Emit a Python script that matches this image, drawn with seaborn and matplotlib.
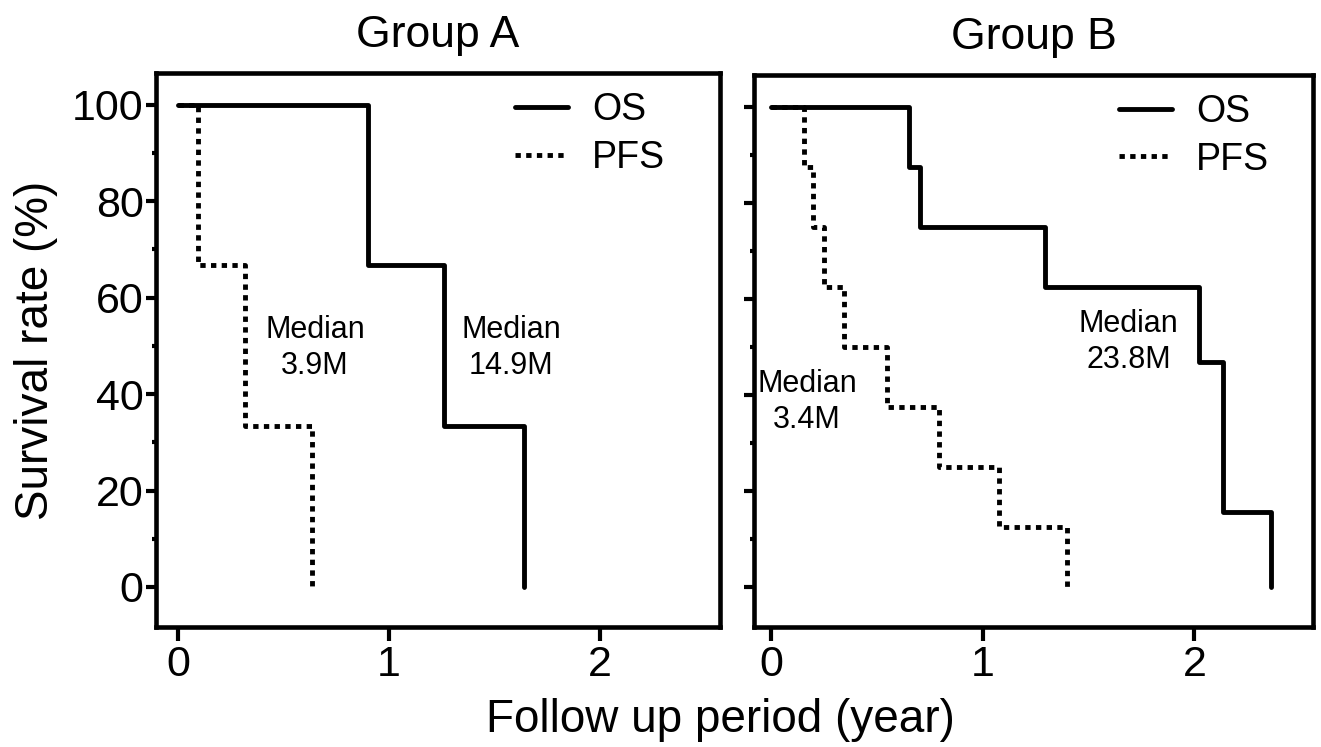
import numpy as np
import pandas as pd
import matplotlib
matplotlib.use("Agg")
import matplotlib.pyplot as plt
import seaborn as sns
from matplotlib.lines import Line2D
from matplotlib.ticker import MultipleLocator

# ---- data ----
groups = ["Group A", "Group B"]
endpoints = ["OS", "PFS"]

a_os_time = [0, 0.90, 1.26, 1.64]
a_os_surv = [100, 66.7, 33.3, 0]
a_pfs_time = [0, 0.095, 0.316, 0.637]
a_pfs_surv = [100, 66.7, 33.3, 0]

b_os_time = [0, 0.65, 0.705, 1.295, 2.02, 2.135, 2.363]
b_os_surv = [100, 87.5, 75, 62.5, 46.9, 15.6, 0]
b_pfs_time = [0, 0.155, 0.197, 0.25, 0.345, 0.549, 0.793, 1.075, 1.396]
b_pfs_surv = [100, 87.5, 75, 62.5, 50, 37.5, 25, 12.5, 0]

medians_a = ["Median\n3.9M", "Median\n14.9M"]
medians_b = ["Median\n3.4M", "Median\n23.8M"]

x_ticks = [0, 1, 2]
y_ticks = [0, 20, 40, 60, 80, 100]

rows = []
for g, ep, t, s in [
    ("Group A", "OS", a_os_time, a_os_surv),
    ("Group A", "PFS", a_pfs_time, a_pfs_surv),
    ("Group B", "OS", b_os_time, b_os_surv),
    ("Group B", "PFS", b_pfs_time, b_pfs_surv),
]:
    for ti, si in zip(t, s):
        rows.append({"group": g, "endpoint": ep, "time": ti, "surv": si})
df = pd.DataFrame(rows)

# ---- style ----
sns.set_theme(style="ticks")
plt.rcParams["font.family"] = ["Liberation Sans", "DejaVu Sans"]
plt.rcParams["text.color"] = "black"
plt.rcParams["axes.labelcolor"] = "black"
plt.rcParams["xtick.color"] = "black"
plt.rcParams["ytick.color"] = "black"
plt.rcParams["axes.linewidth"] = 3.3

W, H = 1321, 747
fig = plt.figure(figsize=(W / 100, H / 100), dpi=100)

def frac_box(l, t, r, b):
    return [l / W, 1 - b / H, (r - l) / W, (b - t) / H]

axA = fig.add_axes(frac_box(156, 73, 720, 627))
axB = fig.add_axes(frac_box(754, 75, 1313, 627))

LW = 3.5
dot = (0, (1.1, 1.1))
dash_map = {"OS": "", "PFS": (1.1, 1.1)}

for ax, g, xl in [(axA, "Group A", (-0.104, 2.57)), (axB, "Group B", (-0.08, 2.56))]:
    sub = df[df["group"] == g]
    sns.lineplot(data=sub, x="time", y="surv", style="endpoint",
                 style_order=endpoints, dashes=dash_map, color="black",
                 linewidth=LW, estimator=None, drawstyle="steps-post",
                 legend=False, ax=ax)
    ax.set_xlim(*xl)
    ax.set_ylim(-8.3, 106.6)
    ax.set_xticks(x_ticks)
    ax.set_yticks(y_ticks)
    ax.yaxis.set_minor_locator(MultipleLocator(10))
    for sp in ax.spines.values():
        sp.set_visible(True)
        sp.set_linewidth(3.3)
        sp.set_color("black")
    ax.tick_params(axis="x", which="major", length=10, width=3.0,
                   labelsize=31, pad=3)
    ax.tick_params(axis="y", which="major", length=7, width=3.0,
                   labelsize=31, pad=2)
    ax.tick_params(axis="y", which="minor", length=3, width=3.0)
    ax.set_xlabel("")
    ax.set_ylabel("")
    ax.set_title(g, fontsize=32, pad=19, color="black")
    handles = [Line2D([], [], color="black", lw=LW, linestyle="-"),
               Line2D([], [], color="black", lw=LW, linestyle=dot)]
    ax.legend(handles, endpoints, loc="upper right", frameon=False,
              fontsize=27, handlelength=1.4, handletextpad=0.65,
              labelspacing=0.3, borderpad=0, borderaxespad=0,
              bbox_to_anchor=(0.9025 if g == "Group A" else 0.922, 0.965))

axB.tick_params(axis="y", which="both", labelleft=False)
axA.set_ylabel("Survival rate (%)", fontsize=33, labelpad=10)

txt_kw = dict(ha="center", va="center", fontsize=22, linespacing=1.25, color="black")
axA.text(0.65, 49.5, medians_a[0], **txt_kw)
axA.text(1.58, 49.5, medians_a[1], **txt_kw)
axB.text(0.17, 38.5, medians_b[0], **txt_kw)
axB.text(1.69, 51.0, medians_b[1], **txt_kw)

fig.text(720 / W, 1 - 720 / H, "Follow up period (year)", ha="center",
         va="center", fontsize=33, color="black")

fig.savefig("out.png", dpi=100)
